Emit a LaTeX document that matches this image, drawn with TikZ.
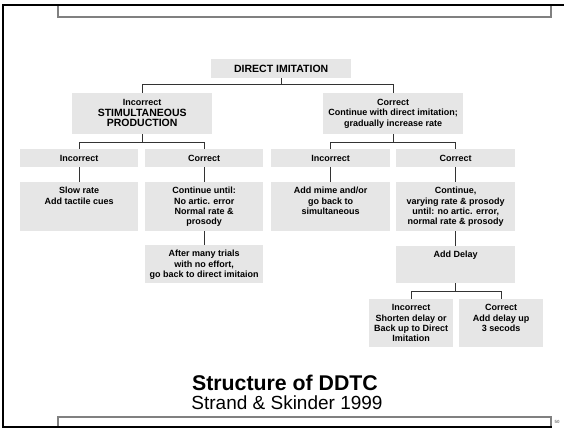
\documentclass[tikz,border=0pt]{standalone}
\usepackage{fontspec}
\setmainfont{Liberation Sans}
\usepackage{tikz}
\usetikzlibrary{positioning}

\definecolor{cellgray}{HTML}{E6E6E6}
\definecolor{linkgray}{HTML}{333333}
\newcommand{\celltext}[3]{\parbox[t][#2pt][t]{#1pt}{\centering\rule{0pt}{11.5pt}#3}}

\begin{document}
\begin{tikzpicture}[x=1pt,y=-1pt,
		cell/.style={fill=cellgray,inner sep=0pt,anchor=north west,font=\fontsize{9}{10.3}\selectfont\bfseries},
		link/.style={draw=linkgray,line width=.8pt},
		frame/.style={line width=2pt},
		bar/.style={draw=gray,line width=1.2pt}]
		\useasboundingbox (0,0) rectangle (564,429);
		\draw[bar] (58,5) -- (58,17) -- (551,17) -- (551,5);
		\draw[bar] (58,427) -- (58,417) -- (551,417) -- (551,427);
		\draw[frame] (564,5) -- (3,5) -- (3,427) -- (552,427);
		\node[font=\fontsize{4.5}{5}\selectfont\bfseries,text=gray] (page) at (557,422) {50};

		\node[cell] (di) at (211,59) {\celltext{140}{19}{\rule{0pt}{13pt}\fontsize{10.5}{11}\selectfont DIRECT IMITATION}};
		\node[cell] (stim) at (72,93) {\celltext{140}{41}{\rule{0pt}{12.3pt}Incorrect\\{\fontsize{10.5}{11}\selectfont STIMULTANEOUS\\PRODUCTION}}};
		\node[cell] (cont) at (323,93) {\celltext{140}{41}{\rule{0pt}{12.3pt}Correct\\Continue with direct imitation;\\gradually increase rate}};

		\node[cell] (inc2) at (20,149) {\celltext{118}{18}{\rule{0pt}{12pt}Incorrect}};
		\node[cell] (cor2) at (145,149) {\celltext{118}{18}{\rule{0pt}{12pt}Correct}};
		\node[cell] (inc3) at (271,149) {\celltext{119}{18}{\rule{0pt}{12pt}Incorrect}};
		\node[cell] (cor3) at (396,149) {\celltext{119}{18}{\rule{0pt}{12pt}Correct}};

		\node[cell] (slow) at (20,182) {\celltext{118}{49}{Slow rate\\Add tactile cues}};
		\node[cell] (until) at (145,182) {\celltext{118}{49}{Continue until:\\No artic. error\\Normal rate \&\\prosody}};
		\node[cell] (mime) at (271,182) {\celltext{119}{49}{Add mime and/or\\go back to\\simultaneous}};
		\node[cell] (vary) at (396,182) {\celltext{119}{49}{Continue,\\varying rate \& prosody\\until: no artic. error,\\normal rate \& prosody}};

		\node[cell] (trials) at (145,245) {\celltext{118}{38}{After many trials\\with no effort,\\go back to direct imitaion}};
		\node[cell] (delay) at (396,246) {\celltext{119}{37}{Add Delay}};

		\node[cell] (shorten) at (369,299) {\celltext{84}{48}{Incorrect\\Shorten delay or\\Back up to Direct\\Imitation}};
		\node[cell] (more) at (459,299) {\celltext{84}{48}{Correct\\Add delay up\\3 secods}};

		\draw[link] (di.south) -- ++(0,6) -| (stim.north);
		\draw[link] (di.south) -- ++(0,6) -| (cont.north);
		\draw[link] (stim.south) -- ++(0,8) -| (inc2.north);
		\draw[link] (stim.south) -- ++(0,8) -| (cor2.north);
		\draw[link] (cont.south) -- ++(0,8) -| (inc3.north);
		\draw[link] (cont.south) -- ++(0,8) -| (cor3.north);
		\foreach \a/\b in {inc2/slow,cor2/until,inc3/mime,cor3/vary,until/trials,vary/delay}
			\draw[link] (\a.south) -- (\b.north);
		\draw[link] (delay.south) -- ++(0,8) -| (shorten.north);
		\draw[link] (delay.south) -- ++(0,8) -| (more.north);

		\node[font=\fontsize{21.3}{23}\selectfont\bfseries,anchor=base,inner sep=1pt] (title) at (285,390) {Structure of DDTC};
		\node[font=\fontsize{19}{21}\selectfont,anchor=base,inner sep=1pt] (source) at (287,409) {Strand \& Skinder 1999};
	\end{tikzpicture}
\end{document}
